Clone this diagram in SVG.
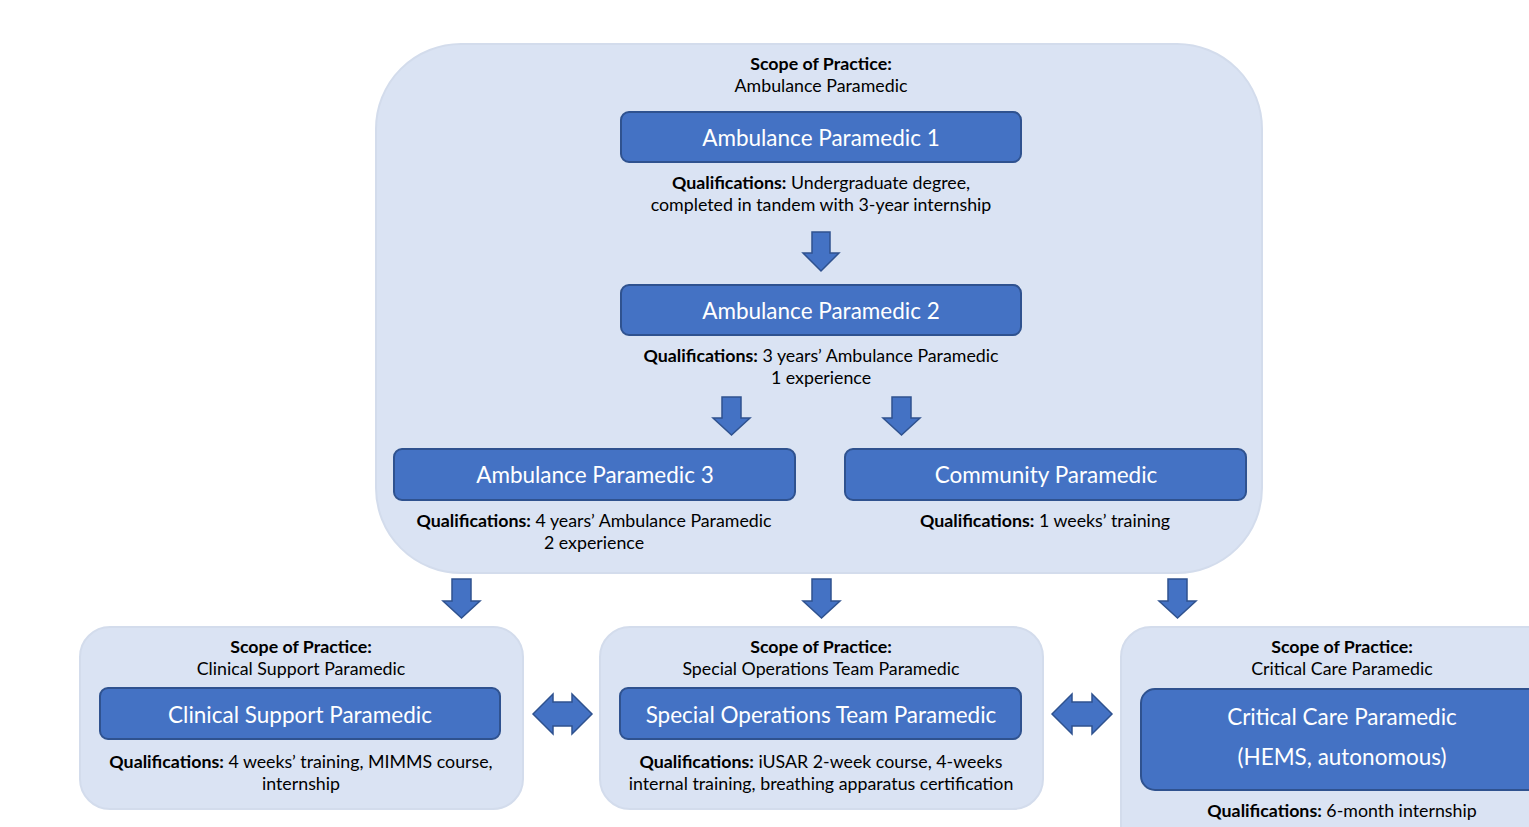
<svg xmlns="http://www.w3.org/2000/svg" width="1529" height="827" viewBox="0 0 1529 827">
<style>
.cont{fill:#DAE3F3;stroke:#D3DCEC;stroke-width:2}
.box{fill:#4472C4;stroke:#2F528F;stroke-width:2}
.arr{fill:#4472C4;stroke:#2F528F;stroke-width:1.5}
text{font-family:Lato,"Liberation Sans",sans-serif;text-anchor:middle}
.t{font-size:17.8px;fill:#000}
.b{font-weight:bold}
.w{font-size:22.5px;fill:#fff}
</style>
<rect width="1529" height="827" fill="#fff"/>
<g id="ambulance-scope">
<rect class="cont" x="376" y="44" width="886" height="529" rx="85"/>
<text class="t" x="821" y="70"><tspan class="b">Scope of Practice:</tspan></text>
<text class="t" x="821" y="92">Ambulance Paramedic</text>
</g>
<g id="ap1">
<rect class="box" x="621" y="112" width="400" height="50" rx="8"/>
<text class="w" x="821" y="146">Ambulance Paramedic 1</text>
<text class="t" x="821" y="189"><tspan class="b">Qualifications:</tspan> Undergraduate degree,</text>
<text class="t" x="821" y="211">completed in tandem with 3-year internship</text>
</g>
<g id="ap2">
<rect class="box" x="621" y="285" width="400" height="50" rx="8"/>
<text class="w" x="821" y="319">Ambulance Paramedic 2</text>
<text class="t" x="821" y="362"><tspan class="b">Qualifications:</tspan> 3 years’ Ambulance Paramedic</text>
<text class="t" x="821" y="384">1 experience</text>
</g>
<g id="ap3">
<rect class="box" x="394" y="449" width="401" height="51" rx="8"/>
<text class="w" x="595" y="483">Ambulance Paramedic 3</text>
<text class="t" x="594" y="527"><tspan class="b">Qualifications:</tspan> 4 years’ Ambulance Paramedic</text>
<text class="t" x="594" y="549">2 experience</text>
</g>
<g id="community">
<rect class="box" x="845" y="449" width="401" height="51" rx="8"/>
<text class="w" x="1046" y="483">Community Paramedic</text>
<text class="t" x="1045" y="527"><tspan class="b">Qualifications:</tspan> 1 weeks’ training</text>
</g>
<g id="clinical-support">
<rect class="cont" x="80" y="627" width="443" height="182" rx="30"/>
<text class="t" x="301" y="653"><tspan class="b">Scope of Practice:</tspan></text>
<text class="t" x="301" y="675">Clinical Support Paramedic</text>
<rect class="box" x="100" y="688" width="400" height="51" rx="8"/>
<text class="w" x="300" y="723">Clinical Support Paramedic</text>
<text class="t" x="301" y="768"><tspan class="b">Qualifications:</tspan> 4 weeks’ training, MIMMS course,</text>
<text class="t" x="301" y="790">internship</text>
</g>
<g id="special-operations">
<rect class="cont" x="600" y="627" width="443" height="182" rx="30"/>
<text class="t" x="821" y="653"><tspan class="b">Scope of Practice:</tspan></text>
<text class="t" x="821" y="675">Special Operations Team Paramedic</text>
<rect class="box" x="620" y="688" width="401" height="51" rx="8"/>
<text class="w" x="821" y="723">Special Operations Team Paramedic</text>
<text class="t" x="821" y="768"><tspan class="b">Qualifications:</tspan> iUSAR 2-week course, 4-weeks</text>
<text class="t" x="821" y="790">internal training, breathing apparatus certification</text>
</g>
<g id="critical-care">
<rect class="cont" x="1121" y="627" width="443" height="230" rx="30"/>
<text class="t" x="1342" y="653"><tspan class="b">Scope of Practice:</tspan></text>
<text class="t" x="1342" y="675">Critical Care Paramedic</text>
<rect class="box" x="1141" y="689" width="420" height="101" rx="14"/>
<text class="w" x="1342" y="725">Critical Care Paramedic</text>
<text class="w" x="1342" y="765">(HEMS, autonomous)</text>
<text class="t" x="1342" y="817"><tspan class="b">Qualifications:</tspan> 6-month internship</text>
</g>
<g id="connectors">
<path class="arr" d="M812,232H830V253H839L821,271L803,253H812Z"/>
<path class="arr" d="M722,397H741V418H750L731.5,435L713,418H722Z"/>
<path class="arr" d="M892,397H911V418H920L901.5,435L883,418H892Z"/>
<path class="arr" d="M452,579H471V601H480L461.5,618L443,601H452Z"/>
<path class="arr" d="M812,579H831V601H840L821.5,618L803,601H812Z"/>
<path class="arr" d="M1168,579H1187V601H1196L1177.5,618L1159,601H1168Z"/>
<path class="arr" d="M533,714L553,694V702H572V694L592,714L572,734V726H553V734Z"/>
<path class="arr" d="M1052,714L1072,694V702H1092V694L1112,714L1092,734V726H1072V734Z"/>
</g>
</svg>
